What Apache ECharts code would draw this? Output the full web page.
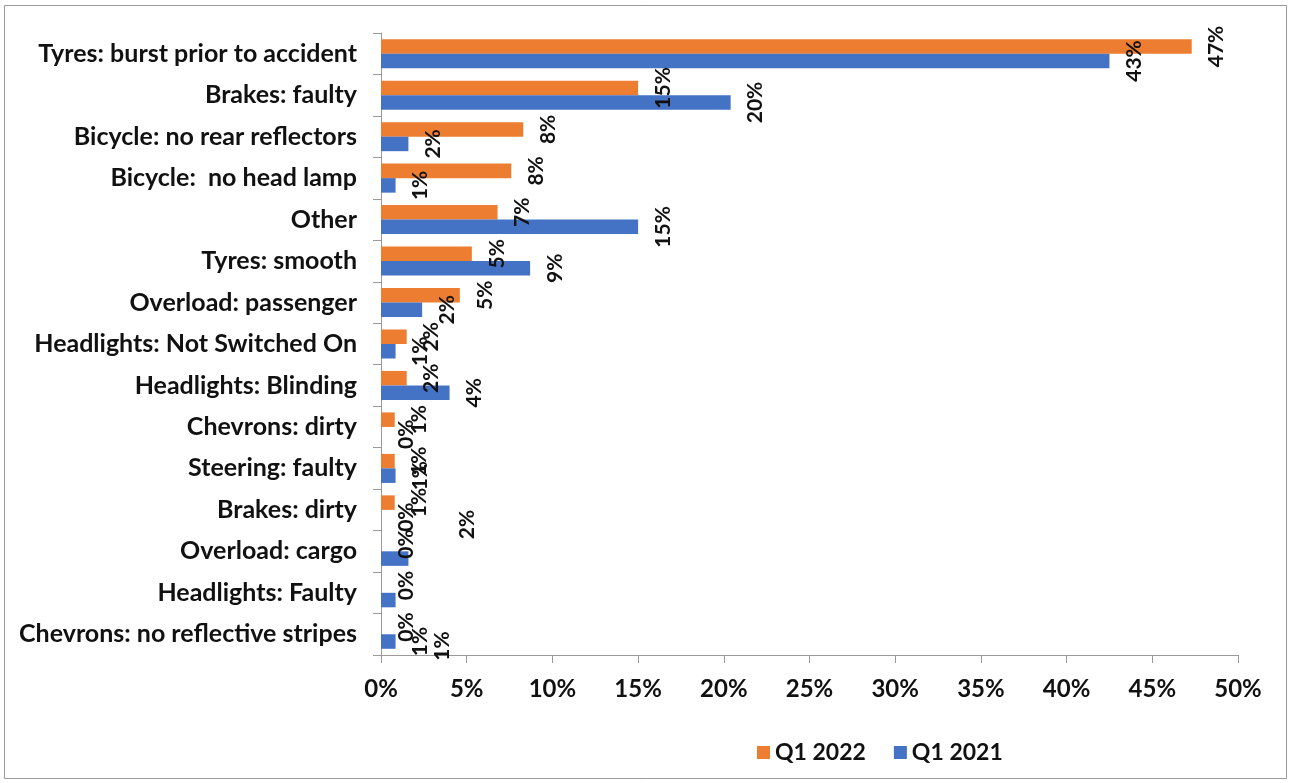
<!DOCTYPE html>
<html>
<head>
<meta charset="utf-8">
<script src="https://cdn.jsdelivr.net/npm/echarts@6/dist/echarts.min.js"></script>
<style>html,body{margin:0;padding:0;background:#fff;}#c{width:1290px;height:783px;}</style>
</head>
<body>
<div id="c"></div>
<script>
const categories = [
  "Tyres: burst prior to accident",
  "Brakes: faulty",
  "Bicycle: no rear reflectors",
  "Bicycle:  no head lamp",
  "Other",
  "Tyres: smooth",
  "Overload: passenger",
  "Headlights: Not Switched On",
  "Headlights: Blinding",
  "Chevrons: dirty",
  "Steering: faulty",
  "Brakes: dirty",
  "Overload: cargo",
  "Headlights: Faulty",
  "Chevrons: no reflective stripes"
];
const q1_2022 = [47.3, 15.0, 8.3, 7.6, 6.8, 5.3, 4.6, 1.5, 1.5, 0.8, 0.8, 0.8, 0, 0, 0];
const q1_2021 = [42.5, 20.4, 1.6, 0.85, 15.0, 8.7, 2.4, 0.85, 4.0, 0, 0.85, 0, 1.6, 0.85, 0.85];
const xTicks = [0, 5, 10, 15, 20, 25, 30, 35, 40, 45, 50];

// label offsets (in the rotated label frame) for the few labels moved in the original
const labelShift2021 = {12: [34, 34], 13: [-46, 22]};

const FONT = 'Lato';
const labelBase = {
  show: true, position: 'right', distance: 25, rotate: 90,
  align: 'center', verticalAlign: 'middle',
  fontFamily: FONT, fontWeight: 'bold', fontSize: 21, color: '#111',
  formatter: p => Math.round(p.value) + '%'
};

const data2021 = q1_2021.map((v, i) => labelShift2021[i]
  ? {value: v, label: {offset: labelShift2021[i]}} : v);

const chart = echarts.init(document.getElementById('c'));
chart.setOption({
  animation: false,
  backgroundColor: '#fff',
  graphic: [{type: 'rect', shape: {x: 4.5, y: 5.5, width: 1282, height: 773},
    style: {fill: 'none', stroke: '#9a9a9a', lineWidth: 1}, silent: true}],
  grid: {left: 381, right: 52, top: 33, bottom: 128, containLabel: false},
  legend: {
    data: ['Q1 2022', 'Q1 2021'], left: 752, top: 736,
    icon: 'rect', itemWidth: 13, itemHeight: 13, itemGap: 28,
    textStyle: {fontFamily: FONT, fontWeight: 'bold', fontSize: 23, color: '#111'}
  },
  xAxis: {
    type: 'value', min: xTicks[0], max: xTicks[xTicks.length - 1], interval: 5,
    axisLine: {show: true, lineStyle: {color: '#9a9a9a'}},
    axisTick: {show: true, length: 8, lineStyle: {color: '#9a9a9a'}},
    splitLine: {show: false},
    axisLabel: {formatter: v => v + '%', margin: 22, fontFamily: FONT, fontWeight: 'bold', fontSize: 24, color: '#111'}
  },
  yAxis: {
    type: 'category', data: categories, inverse: true,
    axisLine: {show: true, lineStyle: {color: '#9a9a9a'}},
    axisTick: {show: true, length: 8, lineStyle: {color: '#9a9a9a'}},
    axisLabel: {margin: 24, fontFamily: FONT, fontWeight: 'bold', fontSize: 25, color: '#111'}
  },
  series: [
    {name: 'Q1 2022', type: 'bar', data: q1_2022, itemStyle: {color: '#ED7D31'},
     barGap: '0%', barCategoryGap: '30%', label: labelBase},
    {name: 'Q1 2021', type: 'bar', data: data2021, itemStyle: {color: '#4472C4'},
     barGap: '0%', barCategoryGap: '30%', label: labelBase}
  ]
});
</script>
</body>
</html>
